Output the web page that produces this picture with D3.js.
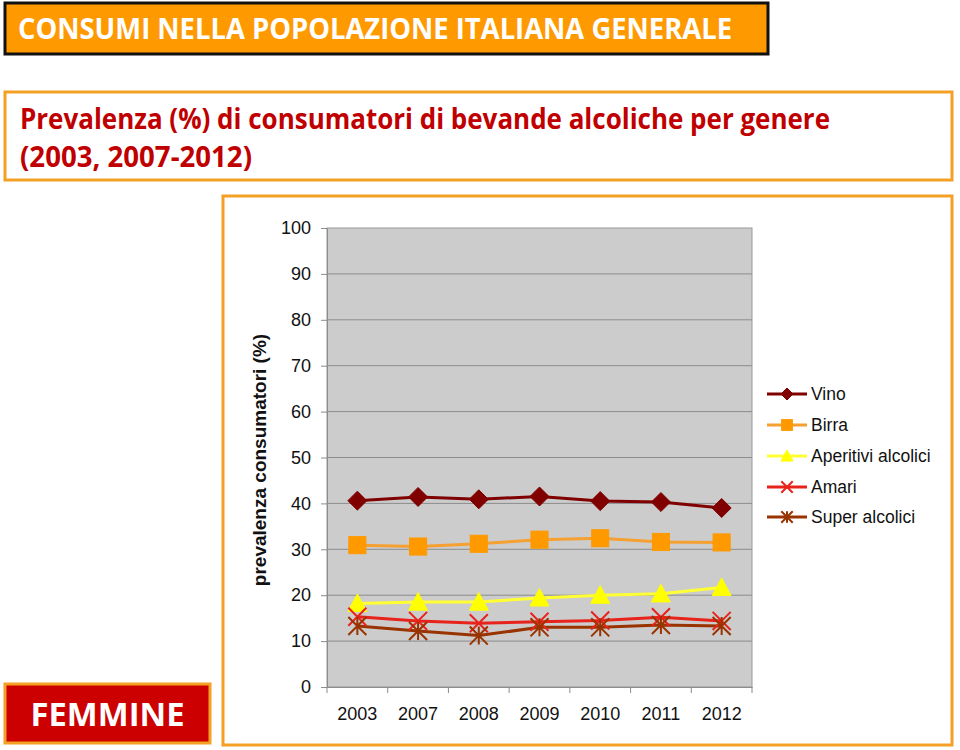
<!DOCTYPE html>
<html>
<head>
<meta charset="utf-8">
<script src="https://cdn.jsdelivr.net/npm/d3@7"></script>
<style>
  body { margin: 0; background: #ffffff; }
  svg { display: block; }
</style>
</head>
<body>
<svg id="chart" width="960" height="750"></svg>
<script>
// ---- data ----
const years = ["2003", "2007", "2008", "2009", "2010", "2011", "2012"];
const vino = [40.6, 41.4, 40.9, 41.5, 40.5, 40.3, 39.0];
const birra = [30.9, 30.6, 31.2, 32.1, 32.4, 31.6, 31.5];
const aperitivi = [18.2, 18.5, 18.5, 19.4, 20.0, 20.3, 21.7];
const amari = [15.3, 14.4, 13.9, 14.2, 14.5, 15.2, 14.4];
const superAlcolici = [13.3, 12.2, 11.2, 13.0, 13.0, 13.5, 13.3];
const yTicks = [0, 10, 20, 30, 40, 50, 60, 70, 80, 90, 100];
const seriesNames = ["Vino", "Birra", "Aperitivi alcolici", "Amari", "Super alcolici"];

const series = [
  { name: seriesNames[0], values: vino, line: "#800000", fill: "#800000", marker: "diamond" },
  { name: seriesNames[1], values: birra, line: "#F5A030", fill: "#FF9900", marker: "square" },
  { name: seriesNames[2], values: aperitivi, line: "#FFFF33", fill: "#FFFF00", marker: "triangle" },
  { name: seriesNames[3], values: amari, line: "#E8231B", fill: "#E8231B", marker: "x" },
  { name: seriesNames[4], values: superAlcolici, line: "#993300", fill: "#993300", marker: "star" }
];

const svg = d3.select("#chart");
const sans = "Arial, 'Liberation Sans', sans-serif";

// ---- header boxes ----
svg.append("rect").attr("x", 5).attr("y", 3).attr("width", 763).attr("height", 51)
  .attr("fill", "#FF9900").attr("stroke", "#111").attr("stroke-width", 3);
svg.append("text").attr("x", 18).attr("y", 39)
  .attr("font-family", "'Open Sans', sans-serif").attr("font-weight", "bold")
  .attr("font-size", 28).attr("fill", "#ffffff")
  .attr("textLength", 714).attr("lengthAdjust", "spacingAndGlyphs")
  .text("CONSUMI NELLA POPOLAZIONE ITALIANA GENERALE");

svg.append("rect").attr("x", 5).attr("y", 92).attr("width", 947).attr("height", 88)
  .attr("fill", "#ffffff").attr("stroke", "#F4A024").attr("stroke-width", 3);
svg.append("text").attr("x", 20).attr("y", 129)
  .attr("font-family", "'Open Sans', sans-serif").attr("font-weight", "bold")
  .attr("font-size", 28).attr("fill", "#C00000")
  .attr("textLength", 810).attr("lengthAdjust", "spacingAndGlyphs")
  .text("Prevalenza (%) di consumatori di bevande alcoliche per genere");
svg.append("text").attr("x", 20).attr("y", 167)
  .attr("font-family", "'Open Sans', sans-serif").attr("font-weight", "bold")
  .attr("font-size", 28).attr("fill", "#C00000")
  .attr("textLength", 232).attr("lengthAdjust", "spacingAndGlyphs")
  .text("(2003, 2007-2012)");

// chart frame
svg.append("rect").attr("x", 223).attr("y", 196).attr("width", 729).attr("height", 549)
  .attr("fill", "#ffffff").attr("stroke", "#F4A024").attr("stroke-width", 3);

// FEMMINE box
svg.append("rect").attr("x", 5).attr("y", 684).attr("width", 205).attr("height", 59)
  .attr("fill", "#CC0000").attr("stroke", "#F4A024").attr("stroke-width", 3);
svg.append("text").attr("x", 107.5).attr("y", 726).attr("text-anchor", "middle")
  .attr("font-family", "'Open Sans', sans-serif").attr("font-weight", "bold")
  .attr("font-size", 32).attr("fill", "#ffffff")
  .attr("textLength", 154).attr("lengthAdjust", "spacingAndGlyphs")
  .text("FEMMINE");

// ---- plot ----
const plot = { left: 327, right: 752, top: 228, bottom: 687 };
const x = d3.scaleBand().domain(years).range([plot.left, plot.right]).paddingInner(0).paddingOuter(0);
const y = d3.scaleLinear().domain([0, 100]).range([plot.bottom, plot.top]);
const cx = d => x(d) + x.bandwidth() / 2;

svg.append("rect").attr("x", plot.left).attr("y", plot.top)
  .attr("width", plot.right - plot.left).attr("height", plot.bottom - plot.top)
  .attr("fill", "#CCCCCC").attr("stroke", "#999999").attr("stroke-width", 1);

// gridlines
svg.append("g").selectAll("line").data(yTicks.filter(t => t > 0 && t < 100)).join("line")
  .attr("x1", plot.left).attr("x2", plot.right)
  .attr("y1", d => y(d)).attr("y2", d => y(d))
  .attr("stroke", "#8c8c8c").attr("stroke-width", 1);

// y axis
const yAxis = svg.append("g").attr("transform", `translate(${plot.left},0)`)
  .call(d3.axisLeft(y).tickValues(yTicks).tickSize(6).tickPadding(10));
yAxis.select(".domain").attr("stroke", "#8c8c8c");
yAxis.selectAll(".tick line").attr("stroke", "#8c8c8c");
yAxis.selectAll("text").attr("font-family", sans)
  .attr("font-size", 18).attr("fill", "#111");

// x axis
const xAxis = svg.append("g").attr("transform", `translate(0,${plot.bottom})`)
  .call(d3.axisBottom(x).tickSize(0).tickPadding(20));
xAxis.select(".domain").attr("stroke", "#8c8c8c");
xAxis.selectAll("text").attr("font-family", sans)
  .attr("font-size", 18).attr("fill", "#111");
// tick marks at category boundaries
const bounds = years.map(d => x(d)).concat([plot.right]);
svg.append("g").selectAll("line").data(bounds).join("line")
  .attr("x1", d => d).attr("x2", d => d)
  .attr("y1", plot.bottom).attr("y2", plot.bottom + 6)
  .attr("stroke", "#8c8c8c");

// y axis title
svg.append("text")
  .attr("transform", `translate(266,${(333 + 587) / 2}) rotate(-90)`)
  .attr("text-anchor", "middle")
  .attr("font-family", sans)
  .attr("font-weight", "bold").attr("font-size", 19).attr("fill", "#111")
  .text("prevalenza consumatori (%)");

// marker drawing
function drawMarker(g, type, color, fill, size) {
  const h = size / 2;
  if (type === "diamond") {
    g.append("path").attr("d", `M0,${-h}L${h},0L0,${h}L${-h},0Z`).attr("fill", fill).attr("stroke", color);
  } else if (type === "square") {
    g.append("rect").attr("x", -h * 0.9).attr("y", -h * 0.9).attr("width", h * 1.8).attr("height", h * 1.8)
      .attr("fill", fill).attr("stroke", fill);
  } else if (type === "triangle") {
    g.append("path").attr("d", `M0,${-h}L${h},${h * 0.85}L${-h},${h * 0.85}Z`).attr("fill", fill).attr("stroke", fill);
  } else if (type === "x") {
    const k = h * 0.95;
    g.append("path").attr("d", `M${-k},${-k}L${k},${k}M${-k},${k}L${k},${-k}`)
      .attr("stroke", color).attr("stroke-width", 2).attr("fill", "none");
  } else if (type === "star") {
    const k = h * 0.95;
    g.append("path").attr("d", `M${-k},${-k}L${k},${k}M${-k},${k}L${k},${-k}M0,${-k}L0,${k}`)
      .attr("stroke", color).attr("stroke-width", 2).attr("fill", "none");
  }
}

const lineGen = d3.line().x((d, i) => cx(years[i])).y(d => y(d));

series.forEach(s => {
  svg.append("path").datum(s.values).attr("d", lineGen)
    .attr("fill", "none").attr("stroke", s.line).attr("stroke-width", 3);
});
series.forEach(s => {
  s.values.forEach((v, i) => {
    const g = svg.append("g").attr("transform", `translate(${cx(years[i])},${y(v)})`);
    drawMarker(g, s.marker, s.line, s.fill, 19);
  });
});

// legend
const legendY = [394, 425, 456, 487, 517];
series.forEach((s, i) => {
  const g = svg.append("g").attr("transform", `translate(767,${legendY[i]})`);
  g.append("line").attr("x1", 0).attr("x2", 40).attr("y1", 0).attr("y2", 0)
    .attr("stroke", s.line).attr("stroke-width", 3);
  const m = g.append("g").attr("transform", "translate(20,0)");
  drawMarker(m, s.marker, s.line, s.fill, 12);
  g.append("text").attr("x", 44).attr("y", 6)
    .attr("font-family", sans)
    .attr("font-size", 17.5).attr("fill", "#111").text(s.name);
});
</script>
</body>
</html>
